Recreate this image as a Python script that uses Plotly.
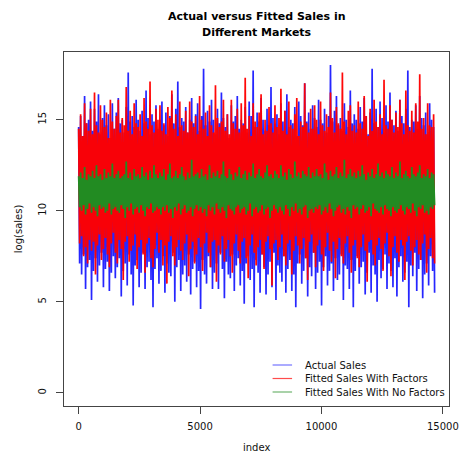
import numpy as np
import plotly.graph_objects as go

N_OBS = 14660

# Upper / lower excursions (alternating peaks and troughs)
actual_hi = [
14.6,15.2,14.1,16.3,14.8,15.0,16.0,14.4,15.6,14.9,16.4,14.2,15.1,15.8,14.7,15.3,14.0,15.9,14.5,15.4,
16.2,14.8,15.0,14.3,15.7,17.6,14.9,15.2,14.6,16.1,15.0,14.4,15.5,14.8,16.6,15.1,14.2,15.3,14.9,15.8,
14.5,15.0,16.0,14.7,15.4,14.1,15.2,16.4,14.8,15.6,17.1,14.6,15.1,14.9,15.7,14.3,15.0,16.2,14.8,15.3,
15.9,14.4,15.2,17.8,14.7,15.5,14.9,16.1,15.0,14.2,15.6,14.8,16.5,15.1,14.6,15.3,14.0,15.8,14.9,15.2,
16.3,14.5,15.0,14.8,15.7,14.3,16.0,15.2,17.7,14.6,15.4,14.9,16.2,15.0,14.4,15.6,14.7,16.8,15.1,14.8,
15.3,14.2,15.9,14.9,15.5,16.4,14.6,15.0,14.8,15.7,14.1,16.0,15.2,14.7,17.0,14.9,15.4,14.5,15.8,15.1,
14.6,16.1,15.0,14.8,15.6,14.3,15.2,18.0,14.9,15.5,16.3,14.7,15.1,14.4,15.9,15.0,14.6,16.6,14.8,15.3,
15.0,14.5,15.7,14.9,16.2,15.2,14.2,15.4,17.8,14.8,15.6,14.6,16.0,15.1,14.3,15.8,14.9,16.5,15.0,14.7,
15.5,14.4,16.1,15.2,14.8,15.6,17.7,14.6,15.0,14.9,15.8,14.5,16.3,15.1,14.7,15.4,14.2,15.9,15.0,14.6]
actual_lo = [
7.1,6.5,7.6,5.7,6.9,7.3,5.1,6.7,7.4,6.1,7.0,7.7,5.8,6.8,7.2,5.6,6.6,7.5,6.3,6.9,
7.4,5.3,6.7,7.1,5.9,7.6,6.5,4.8,7.0,7.3,5.8,6.6,7.7,5.7,6.9,7.2,6.2,4.7,6.8,7.4,
6.0,6.7,7.5,5.5,7.1,6.6,6.4,7.7,5.0,6.9,7.3,5.6,6.5,7.0,6.1,7.6,5.4,6.8,7.2,5.8,
6.7,4.6,7.3,6.5,6.0,7.5,6.9,5.7,6.6,7.1,5.7,7.7,6.8,5.2,7.2,6.5,6.3,7.6,5.6,7.0,
7.4,5.9,6.7,4.9,7.1,7.5,6.2,6.8,4.7,7.3,6.6,5.5,7.6,6.9,5.4,6.5,7.2,5.8,7.7,5.1,
7.0,6.6,6.1,7.5,5.5,6.8,7.3,5.6,6.5,4.7,7.1,7.6,6.0,6.7,7.4,5.3,6.9,6.4,7.7,5.7,
6.6,7.2,4.8,6.9,7.5,5.9,6.7,7.1,5.6,7.4,6.2,6.5,7.6,5.1,7.0,6.8,5.7,7.3,4.7,6.7,
7.5,6.0,6.9,7.2,5.4,6.6,7.7,5.5,7.0,6.5,5.0,7.3,6.3,6.8,7.6,5.7,7.1,6.7,5.8,7.4,
5.3,6.9,7.5,6.1,6.6,7.2,4.7,7.0,6.4,7.7,5.6,6.8,7.3,5.2,6.5,7.1,5.9,7.5,6.7,5.5]

factors_hi = [
14.5,15.3,14.1,15.9,14.8,14.4,15.6,14.2,16.5,14.7,14.3,15.8,15.0,14.6,15.4,14.0,16.1,14.9,14.5,15.2,
16.1,14.3,15.1,14.7,16.8,14.4,15.5,14.2,15.9,14.8,14.6,15.3,14.1,16.2,14.9,14.5,17.1,14.7,14.3,15.6,
15.0,15.8,14.4,14.8,14.2,15.7,15.1,16.6,14.5,15.3,14.1,16.0,14.7,14.4,15.5,14.3,16.0,14.9,14.6,15.2,
14.2,16.3,15.0,14.5,15.4,14.1,15.8,14.7,14.3,16.9,15.1,14.6,14.9,16.1,14.4,15.3,14.2,16.1,14.8,14.5,
15.6,14.3,15.9,14.7,17.3,14.5,15.2,14.1,15.9,14.9,14.6,15.4,16.4,14.2,15.0,14.4,15.7,14.8,14.3,15.8,
14.6,15.1,16.7,14.4,15.5,14.2,16.0,14.7,14.5,15.3,16.2,14.1,14.9,14.6,17.0,14.8,14.3,15.6,14.5,15.8,
15.0,14.2,16.0,14.7,14.4,15.3,14.6,16.5,15.1,14.3,15.7,14.8,14.5,17.6,14.9,14.2,15.5,15.8,14.4,14.7,
14.3,16.0,14.8,14.5,16.3,15.2,14.1,15.6,14.4,16.1,14.9,14.6,15.3,14.2,17.2,14.7,14.5,15.8,15.0,14.3,
15.4,14.6,16.1,14.8,14.2,16.6,14.7,14.4,15.5,14.3,15.9,14.9,17.5,14.5,15.1,14.2,15.9,14.7,14.6,15.3]
factors_lo = [
8.2,8.6,7.5,8.0,7.1,8.4,7.8,8.3,6.5,8.1,8.7,7.3,7.9,8.5,7.6,6.9,8.2,8.8,7.7,7.1,
8.4,7.9,6.2,8.3,8.6,7.2,7.8,8.1,8.7,6.8,8.0,8.4,7.6,6.6,8.2,8.5,7.4,6.9,7.9,8.8,
7.7,8.4,7.0,8.1,6.0,8.3,8.6,7.5,7.0,8.0,8.4,7.8,7.3,8.2,8.7,6.4,7.9,8.3,7.1,7.6,
8.5,8.0,6.7,8.2,8.8,7.7,6.9,8.3,8.4,6.1,8.1,7.6,8.6,7.2,7.9,8.4,7.5,6.6,8.2,8.7,
7.8,7.1,8.3,8.5,7.4,6.3,8.1,8.7,7.7,7.0,8.0,8.4,7.6,6.8,8.3,8.6,7.9,5.9,8.2,8.4,
7.3,8.0,8.7,7.5,7.0,8.2,8.4,6.5,7.8,8.6,8.1,7.1,7.9,8.5,7.4,6.2,8.3,8.7,7.7,6.9,
8.1,8.4,7.6,6.7,8.0,8.8,7.8,7.2,8.3,6.3,7.9,8.5,7.5,7.1,8.2,8.6,7.7,6.6,8.1,8.4,
7.4,6.9,8.0,8.7,7.8,6.1,8.3,8.4,7.6,7.0,8.1,8.5,7.9,6.7,8.2,8.8,7.5,6.4,8.0,8.6,
7.7,7.2,8.4,8.1,6.2,8.3,8.6,7.8,7.0,8.0,8.4,7.6,7.3,8.2,8.7,6.6,7.9,8.5,7.4,7.1]

nofactors_hi = [
11.9,12.1,11.8,12.4,11.7,12.0,11.9,12.2,11.8,12.5,11.9,12.0,11.7,12.3,11.8,12.1,11.9,12.6,11.8,12.0,
12.2,11.8,11.9,12.0,12.7,11.8,12.1,11.7,12.3,11.9,12.0,11.8,12.4,11.9,12.1,11.7,12.2,11.8,12.5,12.0,
11.8,12.1,11.9,12.3,11.7,12.0,12.6,11.8,11.9,12.2,11.8,12.0,12.4,11.9,11.7,12.1,11.8,12.8,11.9,12.0,
12.1,11.8,12.3,11.9,12.0,11.7,12.5,11.8,12.1,11.9,12.2,11.8,12.0,12.7,11.9,11.8,12.3,12.0,11.7,12.1,
11.9,12.4,11.8,12.0,12.2,11.7,12.1,11.9,12.6,11.8,12.0,12.3,11.9,11.8,12.1,12.5,11.9,12.0,11.8,12.2,
12.0,11.8,12.5,11.9,12.1,11.7,12.3,12.0,11.8,12.7,11.9,12.1,11.8,12.2,12.0,11.9,12.4,11.8,12.1,11.9,
12.3,11.9,12.0,11.8,12.6,12.1,11.7,12.2,11.9,12.0,12.4,11.8,12.1,11.9,12.8,11.8,12.0,12.3,11.9,12.1,
11.8,12.2,11.9,12.5,12.0,11.7,12.1,11.9,12.3,11.8,12.0,12.6,11.9,12.1,11.8,12.2,12.0,11.9,12.4,11.8,
12.1,11.9,12.7,11.8,12.0,12.2,11.9,11.8,12.4,12.0,11.9,12.1,12.5,11.8,12.0,11.9,12.3,11.8,12.1,12.0]
nofactors_lo = [
10.2,10.0,10.3,9.8,10.1,10.4,9.9,10.2,10.0,9.7,10.3,10.1,10.2,9.9,10.0,10.4,9.8,10.1,10.2,10.0,
9.9,10.3,10.1,9.6,10.2,10.0,10.4,9.8,10.1,10.2,9.9,10.3,10.0,9.7,10.2,10.1,10.4,9.9,10.0,10.2,
10.1,9.8,10.2,10.0,10.3,9.9,10.1,9.6,10.2,10.0,10.4,9.8,10.1,10.3,9.9,10.0,10.2,9.7,10.1,10.3,
10.0,10.2,9.9,10.1,9.7,10.3,10.0,10.2,9.8,10.4,10.1,9.9,10.2,10.0,9.6,10.3,10.1,10.0,9.8,10.2,
10.3,9.9,10.1,10.2,9.8,10.0,10.4,9.7,10.1,10.2,9.9,10.0,10.3,9.8,10.1,10.2,9.6,10.0,10.3,10.1,
9.9,10.2,10.0,9.8,10.3,10.1,9.7,10.2,10.0,10.4,9.9,10.1,9.8,10.2,10.3,9.6,10.0,10.1,9.9,10.2,
10.1,10.3,9.8,10.0,10.2,9.9,10.4,10.1,9.7,10.0,10.2,10.3,9.9,10.1,9.8,10.2,10.0,9.6,10.3,10.1,
10.2,9.8,10.1,10.3,9.9,10.0,10.2,9.7,10.4,10.1,10.0,9.9,10.2,9.8,10.3,10.1,10.0,9.7,10.2,10.0,
9.9,10.1,10.3,10.0,9.8,10.2,10.1,9.9,10.4,10.0,9.7,10.2,10.1,10.3,9.9,10.0,9.8,10.2,10.1,10.3]

series_names = ["Actual Sales", "Fitted Sales With Factors", "Fitted Sales With No Factors"]
series_colors = ["rgba(0,0,255,0.85)", "rgba(255,0,0,0.97)", "rgba(34,139,34,1.0)"]
legend_colors = ["rgba(0,0,255,0.55)", "rgba(255,0,0,0.7)", "rgba(34,139,34,0.65)"]
x_ticks = [0, 5000, 10000, 15000]
x_ticktext = ["0", "5000", "10000", "15000"]
y_ticks = [0, 5, 10, 15]


def interleave(hi, lo):
    out = []
    for h, l in zip(hi, lo):
        out.extend([h, l])
    return out


series_vals = [interleave(actual_hi, actual_lo),
               interleave(factors_hi, factors_lo),
               interleave(nofactors_hi, nofactors_lo)]

fig = go.Figure()
for name, col, vals in zip(series_names, series_colors, series_vals):
    idx = np.linspace(1, N_OBS, len(vals))
    fig.add_trace(go.Scatter(x=idx, y=vals, mode="lines", name=name,
                             line=dict(color=col, width=1.7), showlegend=False,
                             hoverinfo="skip"))

FONT = "DejaVu Sans"
W, H = 471, 465
L, R, T, B = 64, 12, 52, 59
pw, ph = W - L - R, H - T - B

def px(xp):
    return (xp - L) / pw

def py(yp):
    return (H - B - yp) / ph

# custom legend (no box)
leg_rows = [365, 378.5, 392]
shapes = []
annotations = []
for name, col, yr in zip(series_names, legend_colors, leg_rows):
    shapes.append(dict(type="line", xref="paper", yref="paper",
                       x0=px(278), x1=px(298), y0=py(yr), y1=py(yr),
                       line=dict(color=col, width=1.2)))
    annotations.append(dict(xref="paper", yref="paper", x=px(309), y=py(yr),
                            xanchor="left", yanchor="middle", showarrow=False,
                            text=name, font=dict(family=FONT, size=10, color="#111")))

annotations.append(dict(xref="paper", yref="paper", x=0.5, y=py(16.5),
                        xanchor="center", yanchor="middle", showarrow=False,
                        text="<b>Actual versus Fitted Sales in</b>",
                        font=dict(family=FONT, size=11, color="#000")))
annotations.append(dict(xref="paper", yref="paper", x=0.5, y=py(32),
                        xanchor="center", yanchor="middle", showarrow=False,
                        text="<b>Different Markets</b>",
                        font=dict(family=FONT, size=11, color="#000")))
annotations.append(dict(xref="paper", yref="paper", x=px(17), y=0.5,
                        xanchor="center", yanchor="middle", showarrow=False,
                        textangle=-90, text="log(sales)",
                        font=dict(family=FONT, size=10, color="#111")))
annotations.append(dict(xref="paper", yref="paper", x=0.5, y=py(447),
                        xanchor="center", yanchor="middle", showarrow=False,
                        text="index",
                        font=dict(family=FONT, size=10, color="#111")))

fig.update_layout(
    width=W, height=H,
    margin=dict(l=L, r=R, t=T, b=B),
    paper_bgcolor="white", plot_bgcolor="white",
    shapes=shapes, annotations=annotations,
    xaxis=dict(range=[-602, 15253], tickvals=x_ticks, ticktext=x_ticktext,
               ticks="outside", ticklen=7,
               tickcolor="#444", showgrid=False, zeroline=False, showline=True,
               mirror=True, linecolor="#444", linewidth=1,
               tickfont=dict(family=FONT, size=10, color="#111"),
               ticklabelstandoff=4),
    yaxis=dict(range=[-0.72, 18.72], tickvals=y_ticks, ticks="outside", ticklen=7,
               tickcolor="#444", showgrid=False, zeroline=False, showline=True,
               mirror=True, linecolor="#444", linewidth=1, tickangle=-90,
               tickfont=dict(family=FONT, size=10, color="#111"),
               ticklabelstandoff=6),
)

fig.write_html("out.html")
